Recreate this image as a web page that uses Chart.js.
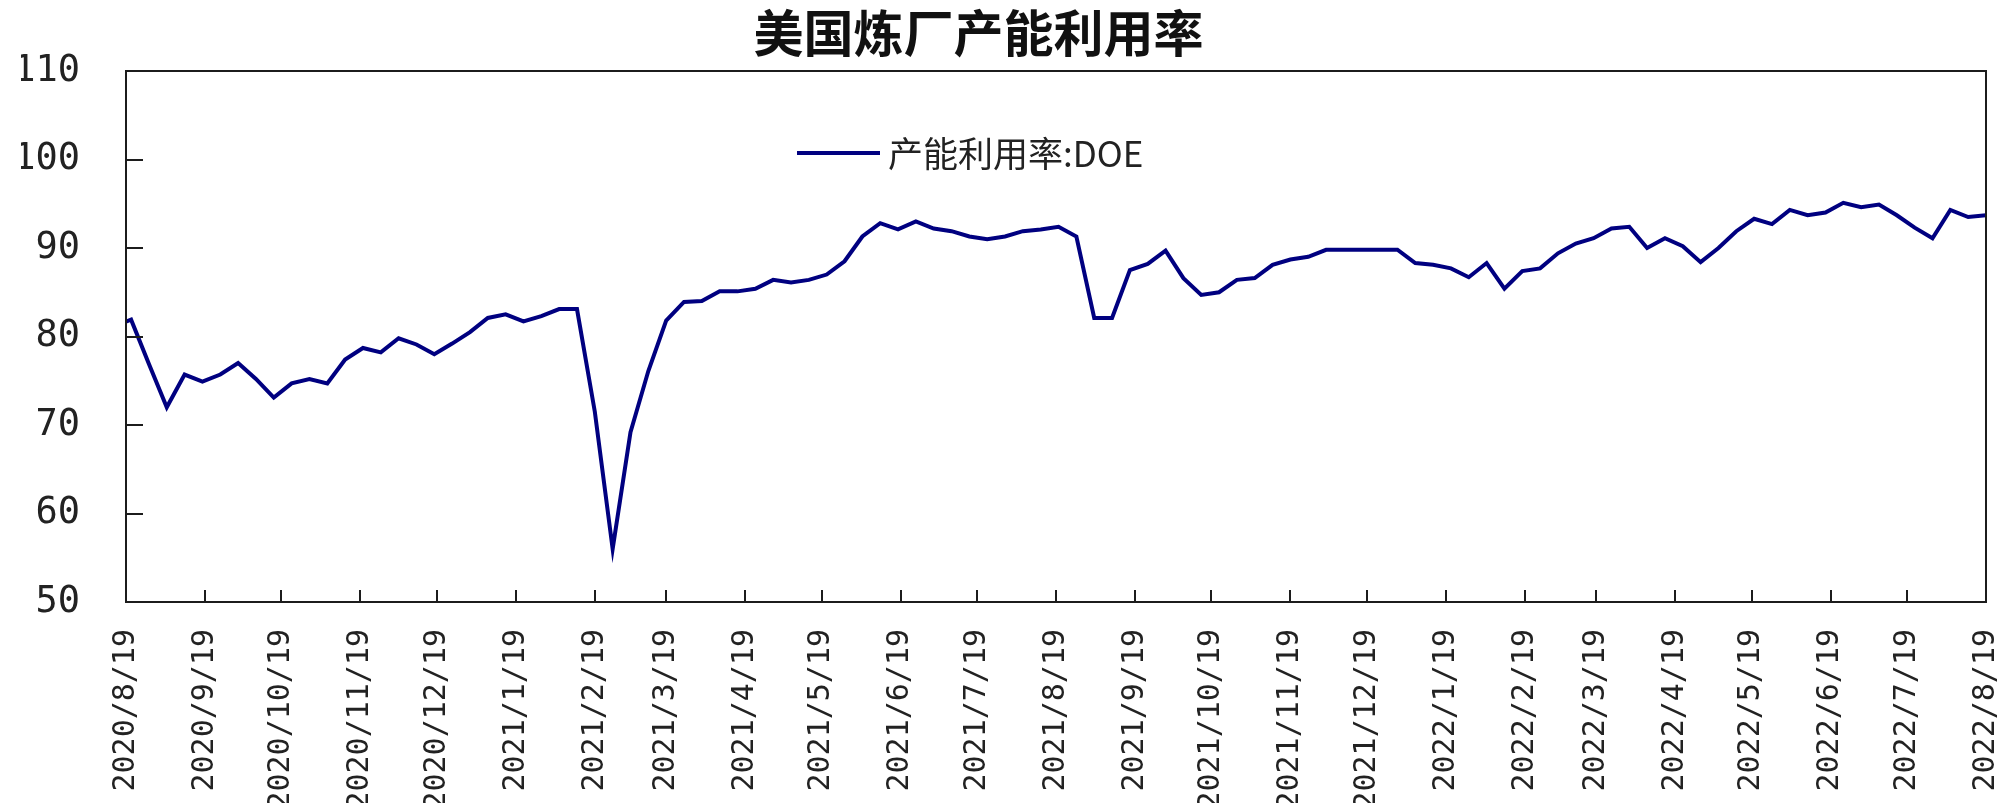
<!DOCTYPE html>
<html>
<head>
<meta charset="utf-8">
<script src="https://cdn.jsdelivr.net/npm/chart.js@4/dist/chart.umd.min.js"></script>
<style>
  html, body { margin:0; padding:0; background:#fff; }
  #wrap { width:2010px; height:803px; position:relative; }
</style>
</head>
<body>
<div id="wrap"><canvas id="c"></canvas></div>
<script>
// 美国炼厂产能利用率 (DOE, 周度)
const chartTitle = '美国炼厂产能利用率';
const seriesName = '产能利用率:DOE';

const weekDates = [
  '2020-08-14','2020-08-21','2020-08-28','2020-09-04','2020-09-11','2020-09-18','2020-09-25',
  '2020-10-02','2020-10-09','2020-10-16','2020-10-23','2020-10-30','2020-11-06','2020-11-13',
  '2020-11-20','2020-11-27','2020-12-04','2020-12-11','2020-12-18','2020-12-25',
  '2021-01-01','2021-01-08','2021-01-15','2021-01-22','2021-01-29','2021-02-05','2021-02-12',
  '2021-02-19','2021-02-26','2021-03-05','2021-03-12','2021-03-19','2021-03-26','2021-04-02',
  '2021-04-09','2021-04-16','2021-04-23','2021-04-30','2021-05-07','2021-05-14','2021-05-21',
  '2021-05-28','2021-06-04','2021-06-11','2021-06-18','2021-06-25','2021-07-02','2021-07-09',
  '2021-07-16','2021-07-23','2021-07-30','2021-08-06','2021-08-13','2021-08-20','2021-08-27',
  '2021-09-03','2021-09-10','2021-09-17','2021-09-24','2021-10-01','2021-10-08','2021-10-15',
  '2021-10-22','2021-10-29','2021-11-05','2021-11-12','2021-11-19','2021-11-26','2021-12-03',
  '2021-12-10','2021-12-17','2021-12-24','2021-12-31',
  '2022-01-07','2022-01-14','2022-01-21','2022-01-28','2022-02-04','2022-02-11','2022-02-18',
  '2022-02-25','2022-03-04','2022-03-11','2022-03-18','2022-03-25','2022-04-01','2022-04-08',
  '2022-04-15','2022-04-22','2022-04-29','2022-05-06','2022-05-13','2022-05-20','2022-05-27',
  '2022-06-03','2022-06-10','2022-06-17','2022-06-24','2022-07-01','2022-07-08','2022-07-15',
  '2022-07-22','2022-07-29','2022-08-05','2022-08-12','2022-08-19'
];

const utilization = [
  81.1, 81.9, 76.9, 72.0, 75.7, 74.9, 75.7,
  77.0, 75.2, 73.1, 74.7, 75.2, 74.7, 77.4,
  78.7, 78.2, 79.8, 79.1, 78.0, 79.2,
  80.5, 82.1, 82.5, 81.7, 82.3, 83.1, 83.1,
  71.5, 56.0, 69.2, 76.1, 81.8, 83.9, 84.0,
  85.1, 85.1, 85.4, 86.4, 86.1, 86.4, 87.0,
  88.5, 91.3, 92.8, 92.1, 93.0, 92.2, 91.9,
  91.3, 91.0, 91.3, 91.9, 92.1, 92.4, 91.3,
  82.1, 82.1, 87.5, 88.2, 89.7, 86.6, 84.7,
  85.0, 86.4, 86.6, 88.1, 88.7, 89.0, 89.8,
  89.8, 89.8, 89.8, 89.8,
  88.3, 88.1, 87.7, 86.7, 88.3, 85.4, 87.4,
  87.7, 89.4, 90.5, 91.1, 92.2, 92.4, 90.0,
  91.1, 90.2, 88.4, 90.0, 91.9, 93.3, 92.7,
  94.3, 93.7, 94.0, 95.1, 94.6, 94.9, 93.7,
  92.3, 91.1, 94.3, 93.5, 93.7
];

const tickDates = [
  '2020/8/19','2020/9/19','2020/10/19','2020/11/19','2020/12/19',
  '2021/1/19','2021/2/19','2021/3/19','2021/4/19','2021/5/19','2021/6/19','2021/7/19',
  '2021/8/19','2021/9/19','2021/10/19','2021/11/19','2021/12/19',
  '2022/1/19','2022/2/19','2022/3/19','2022/4/19','2022/5/19','2022/6/19','2022/7/19','2022/8/19'
];
const yTicks = [50, 60, 70, 80, 90, 100, 110];

// days since the first tick date
function dayNo(s) {
  const p = s.split(/[-\/]/).map(Number);
  return Math.round((Date.UTC(p[0], p[1]-1, p[2]) - Date.UTC(2020, 7, 19)) / 86400000);
}

const axisColor = '#1c1c1c', lineColor = '#000080';
const monoFont = "'DejaVu Sans Mono', monospace";
const cjkFont = "'Noto Sans CJK SC', sans-serif";

// frame + inward tick marks
const framePlugin = {
  id: 'frame',
  afterDatasetsDraw(chart) {
    const {ctx, chartArea: a, scales} = chart;
    ctx.save();
    ctx.strokeStyle = axisColor;
    ctx.lineWidth = 2;
    ctx.strokeRect(a.left, a.top, a.right - a.left, a.bottom - a.top);
    ctx.beginPath();
    scales.x.ticks.forEach(t => {
      const px = Math.round(scales.x.getPixelForValue(t.value));
      ctx.moveTo(px, a.bottom); ctx.lineTo(px, a.bottom - 12);
    });
    scales.y.ticks.forEach(t => {
      const py = Math.round(scales.y.getPixelForValue(t.value));
      ctx.moveTo(a.left, py); ctx.lineTo(a.left + 17, py);
    });
    ctx.stroke();
    ctx.restore();
  }
};

// legend sitting inside the plot
const legendPlugin = {
  id: 'inLegend',
  afterDraw(chart) {
    const {ctx} = chart;
    const ds = chart.data.datasets[0];
    const y = 153;
    ctx.save();
    ctx.strokeStyle = ds.borderColor;
    ctx.lineWidth = 4;
    ctx.beginPath(); ctx.moveTo(797, y); ctx.lineTo(880, y); ctx.stroke();
    ctx.fillStyle = '#222';
    ctx.font = '35px ' + cjkFont;
    ctx.textBaseline = 'middle';
    ctx.fillText(ds.label, 888, y + 1);
    ctx.restore();
  }
};

new Chart(document.getElementById('c'), {
  type: 'line',
  data: {
    datasets: [{
      label: seriesName,
      data: weekDates.map((d, i) => ({x: dayNo(d), y: utilization[i]})),
      borderColor: lineColor,
      backgroundColor: lineColor,
      borderWidth: 4,
      pointRadius: 0,
      tension: 0
    }]
  },
  options: {
    responsive: true,
    maintainAspectRatio: false,
    animation: false,
    layout: { padding: { left: 21, right: 24, top: 0, bottom: 0 } },
    plugins: {
      legend: { display: false },
      tooltip: { enabled: false },
      title: {
        display: true,
        text: chartTitle + '\u3000',
        color: '#111',
        font: { family: cjkFont, size: 50, weight: 'bold' },
        padding: { top: 3, bottom: 8 }
      }
    },
    scales: {
      x: {
        type: 'linear',
        min: dayNo(tickDates[0]),
        max: dayNo(tickDates[tickDates.length - 1]),
        grid: { display: false },
        border: { display: false },
        afterBuildTicks: s => { s.ticks = tickDates.map(d => ({value: dayNo(d)})); },
        afterFit: s => { s.height = 201; s.paddingLeft = 0; s.paddingRight = 0; },
        ticks: {
          autoSkip: false,
          minRotation: 90,
          maxRotation: 90,
          padding: 19,
          color: '#222',
          font: { family: monoFont, size: 30 },
          callback: (v, i) => tickDates[i]
        }
      },
      y: {
        min: 50,
        max: 110,
        grid: { display: false },
        border: { display: false },
        afterBuildTicks: s => { s.ticks = yTicks.map(v => ({value: v})); },
        afterFit: s => { s.width = 105; s.paddingTop = 0; s.paddingBottom = 0; },
        ticks: {
          padding: 38,
          color: '#222',
          font: { family: monoFont, size: 37 }
        }
      }
    }
  },
  plugins: [framePlugin, legendPlugin]
});
</script>
</body>
</html>
